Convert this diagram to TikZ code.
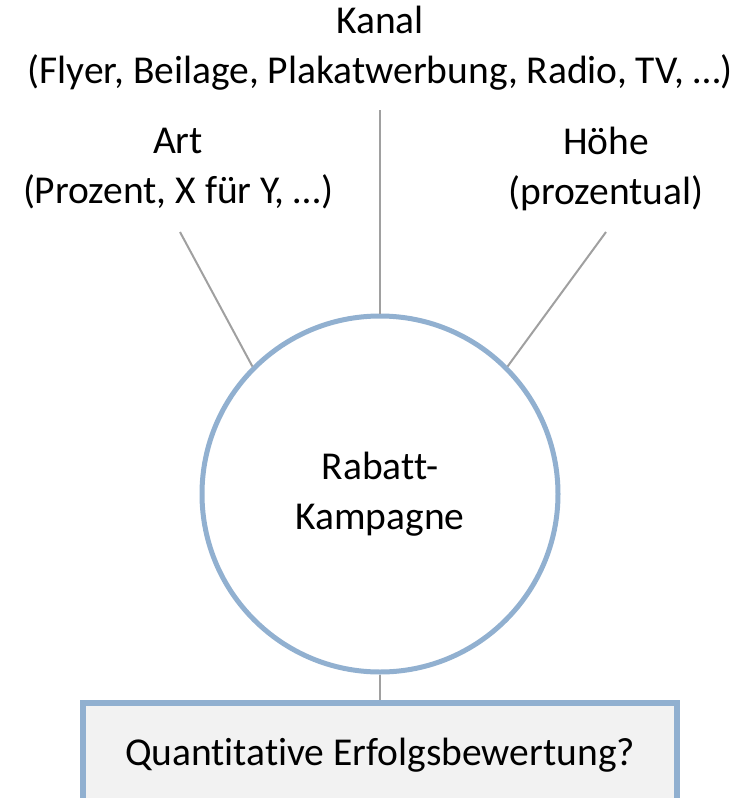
\documentclass[tikz,border=0pt]{standalone}
\usepackage{fontspec}
\setmainfont{Carlito}[RawFeature=-liga]
\definecolor{kblue}{RGB}{145,176,208}
\definecolor{kgray}{RGB}{160,160,160}
\definecolor{kfill}{RGB}{242,242,242}
\begin{document}
\begin{tikzpicture}[x=1pt,y=-1pt,
  txt/.style={font=\fontsize{39.5}{50}\selectfont},
  lbl/.style={txt, align=center, inner sep=0pt},
  conn/.style={draw=kgray, line width=2pt},
  hub/.style={txt, circle, draw=kblue, line width=5pt, fill=white, minimum size=356pt, inner sep=0pt, align=center},
  qbox/.style={txt, draw=kblue, line width=5.5pt, fill=kfill, minimum width=594pt, minimum height=104pt, inner sep=0pt}]
\useasboundingbox (0,0) rectangle (752,798);
\clip (0,0) rectangle (752,798);
\node[lbl] (kanal) at (380,48) {Kanal\\(Flyer, Beilage, Plakatwerbung, Radio, TV, …)};
\node[lbl] (art) at (178,169) {Art\\(Prozent, X für Y, …)};
\node[lbl] (hoehe) at (606,169) {Höhe\\(prozentual)};
\coordinate (kanalend) at (380,110);
\coordinate (artend) at (180,232);
\coordinate (hoeheend) at (606,232);
\node[hub] (c) at (380,494) {Rabatt-\\Kampagne};
\node[qbox, anchor=north] (q) at (380,700) {Quantitative Erfolgsbewertung?};
\draw[conn] (kanalend) -- (c.north);
\draw[conn] (artend) -- (c.135);
\draw[conn] (hoeheend) -- (c.45);
\draw[conn] (c.south) -- (q.north);
\end{tikzpicture}
\end{document}
